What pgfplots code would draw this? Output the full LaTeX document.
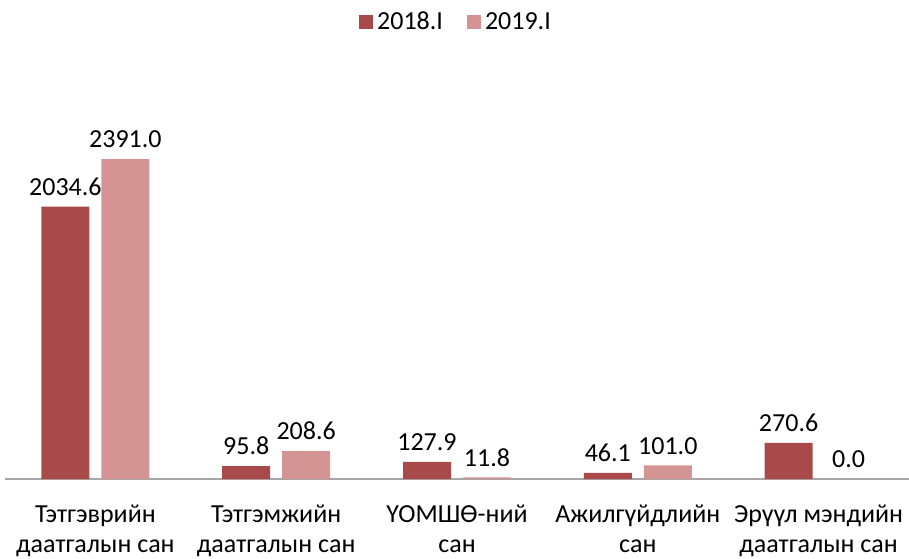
\documentclass[border=0pt]{standalone}
\usepackage{pgfplots}
\pgfplotsset{compat=1.18}
\usepackage{fontspec}
\setmainfont{Carlito}
\definecolor{cA}{HTML}{A84A4A}
\definecolor{cB}{HTML}{D49494}
\definecolor{axg}{HTML}{A6A6A6}
\begin{document}
\begin{tikzpicture}
\useasboundingbox (0,0) rectangle (454.5pt,279pt);
\begin{axis}[
  at={(2.5pt,39.5pt)}, anchor=south west,
  width=452pt, height=209.5pt, scale only axis,
  xmin=-0.5, xmax=4.5, ymin=0, ymax=3131,
  axis x line*=bottom, axis y line=none,
  x axis line style={draw=axg, line width=1pt, -},
  xtick={0,1,2,3,4}, major tick length=0pt,
  xticklabels={{Тэтгэврийн\\даатгалын сан},{Тэтгэмжийн\\даатгалын сан},{ҮОМШӨ-ний\\сан},{Ажилгүйдлийн\\сан},{Эрүүл мэндийн\\даатгалын сан}},
  xticklabel style={align=center, font=\fontsize{13pt}{15pt}\selectfont, yshift=-9.5pt},
  ybar, bar width=24pt,
  nodes near coords, point meta=explicit symbolic,
  nodes near coords style={font=\fontsize{13pt}{15pt}\selectfont, text=black, yshift=2pt},
  legend style={at={(0.5,1.09)}, anchor=center, draw=none, legend columns=2, font=\fontsize{13pt}{15pt}\selectfont, /tikz/every even column/.append style={column sep=10pt}},
  legend image code/.code={\fill[#1] (0pt,-3.5pt) rectangle (7pt,3.5pt);},
  clip=false,
]
\addplot[fill=cA, draw=none, bar shift=-15pt] coordinates {(0,2034.6) [2034.6] (1,95.8) [95.8] (2,127.9) [127.9] (3,46.1) [46.1] (4,270.6) [270.6]};
\addplot[fill=cB, draw=none, bar shift=15pt] coordinates {(0,2391.0) [2391.0] (1,208.6) [208.6] (2,11.8) [11.8] (3,101.0) [101.0] (4,0.0) [0.0]};
\legend{2018.I,2019.I}
\end{axis}
\end{tikzpicture}
\end{document}
